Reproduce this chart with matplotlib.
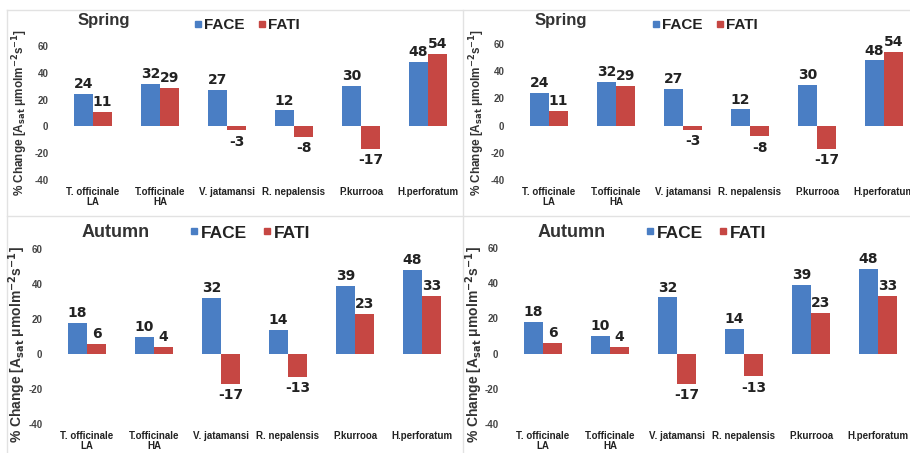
import matplotlib.pyplot as plt
from matplotlib.lines import Line2D

plt.rcParams['font.family'] = ['Liberation Sans', 'DejaVu Sans']
plt.rcParams['font.weight'] = 'bold'
plt.rcParams['mathtext.default'] = 'bf'

species = ["T. officinale\nLA", "T.officinale\nHA", "V. jatamansi",
           "R. nepalensis", "P.kurrooa", "H.perforatum"]
spring_face = [24, 32, 27, 12, 30, 48]
spring_fati = [11, 29, -3, -8, -17, 54]
autumn_face = [18, 10, 32, 14, 39, 48]
autumn_fati = [6, 4, -17, -13, 23, 33]
yticks = [-40, -20, 0, 20, 40, 60]

blue = '#4a7ec4'
red = '#c64743'
W, H = 910, 453
ylab = '% Change [A$_{sat}$ μmolm$^{-2}$s$^{-1}$]'


def panel(rect, season, face, fati, title_xy, leg_xy, title_size, leg_size, lab_xy, lab_size):
    x0, y0, w, h = rect
    ax = fig.add_axes([x0 / W, (H - y0 - h) / H, w / W, h / H])
    xs = range(len(species))
    bw = 0.285
    b1 = ax.bar([i - bw / 2 for i in xs], face, bw, color=blue, label='FACE')
    b2 = ax.bar([i + bw / 2 for i in xs], fati, bw, color=red, label='FATI')
    for bars in (b1, b2):
        for b in bars:
            v = b.get_height()
            ax.annotate(str(int(v)), (b.get_x() + b.get_width() / 2, v),
                        xytext=(0, 2 if v >= 0 else -3), textcoords='offset points',
                        ha='center', va='bottom' if v >= 0 else 'top',
                        fontsize=10, fontweight='bold', color='#222222',
                        family='DejaVu Sans')
    ax.set_xlim(-0.5, 5.5)
    ax.set_ylim(-40, 60)
    ax.set_yticks(yticks)
    ax.set_yticklabels([str(t) for t in yticks], fontsize=7, color='#444444')
    ax.set_xticks(list(xs))
    ax.set_xticklabels(species, fontsize=7, color='#222222', linespacing=1.0)
    ax.tick_params(axis='both', length=0)
    ax.tick_params(axis='y', pad=8)
    ax.tick_params(axis='x', pad=5)
    for s in ax.spines.values():
        s.set_visible(False)
    fig.text(lab_xy[0] / W, 1 - lab_xy[1] / H, ylab, rotation=90, ha='center',
             va='center', fontsize=lab_size, fontweight='bold', color='#333333')
    fig.text(title_xy[0] / W, 1 - title_xy[1] / H, season, fontsize=title_size,
             fontweight='bold', color='#333333', va='center')
    handles = [Line2D([], [], marker='s', ls='', color=blue, markersize=4.5),
               Line2D([], [], marker='s', ls='', color=red, markersize=4.5)]
    fig.legend(handles, ['FACE', 'FATI'], loc='center left',
               bbox_to_anchor=(leg_xy[0] / W, 1 - leg_xy[1] / H), ncol=2,
               frameon=False, prop={'weight': 'bold', 'size': leg_size},
               handlelength=0.5, handletextpad=0.15, columnspacing=0.9,
               borderpad=0, borderaxespad=0, labelcolor='#222222')
    return ax


fig = plt.figure(figsize=(9.1, 4.53), dpi=100)

# panel borders
for xs_, ys_ in [([7, 7], [10, 453]), ([7, 910], [10, 10]), ([463, 463], [10, 453]),
                 ([7, 910], [216, 216])]:
    fig.add_artist(Line2D([x / W for x in xs_], [1 - y / H for y in ys_],
                          color='#e2e2e2', lw=1))

panel((59.5, 46, 402, 134), 'Spring', spring_face, spring_fati,
      (78, 20), (194, 25), 12, 11, (20, 112), 8.5)
panel((515.5, 44, 402, 136), 'Spring', spring_face, spring_fati,
      (535, 20), (652, 25), 12, 11, (477, 112), 8.5)
panel((53.5, 249, 402, 175), 'Autumn', autumn_face, autumn_fati,
      (82, 233), (190, 233), 13, 12.5, (17, 345), 10)
panel((509.5, 248, 402, 176), 'Autumn', autumn_face, autumn_fati,
      (538, 233), (646, 233), 13, 12.5, (474, 345), 10)

fig.savefig('out.png', dpi=100, facecolor='white')
